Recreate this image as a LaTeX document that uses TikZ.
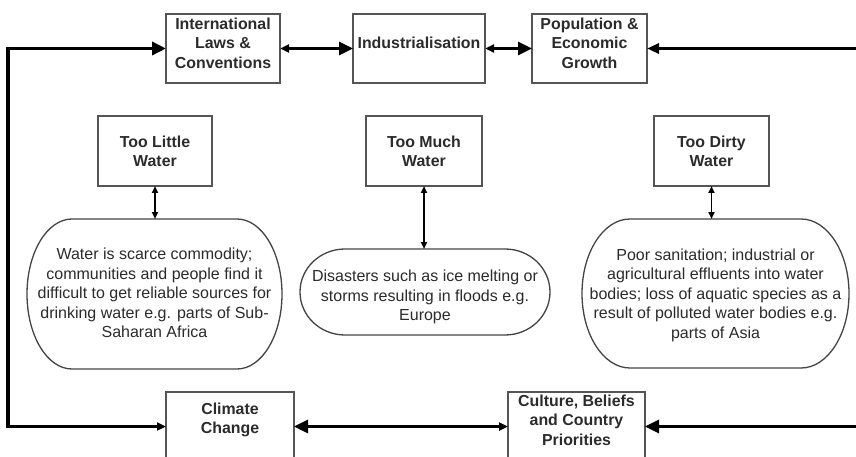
\documentclass[tikz,border=0pt]{standalone}
\usepackage{fontspec}
\setmainfont{Liberation Sans}
\usetikzlibrary{arrows.meta,calc}
\definecolor{ink}{HTML}{2B2B2B}
\definecolor{edge}{HTML}{555555}
\definecolor{ovalline}{HTML}{444444}

% outline of a stadium-like shape with elliptic ends around a named node
\newcommand\stadiumpath[3]{%
  \draw[ovaledge] ([xshift=-#2]#1.north east)
    arc[start angle=90,end angle=-90,x radius=#2,y radius=#3]
    -- ([xshift=#2]#1.south west)
    arc[start angle=270,end angle=90,x radius=#2,y radius=#3]
    -- cycle;}

\tikzset{
  bigtip/.tip={Triangle[length=14pt,width=13pt]},
  midtip/.tip={Triangle[length=12pt,width=10pt]},
  smalltip/.tip={Triangle[length=9pt,width=8pt]},
  tinytip/.tip={Triangle[length=7pt,width=6pt]},
}

\begin{document}
\begin{tikzpicture}[x=1pt,y=-1pt,
  frame/.style={draw=edge,line width=1.3pt,fill=white,minimum width=#1,
    minimum height=69pt,inner sep=0pt,outer sep=0pt},
  boxtext/.style={font=\fontsize{15.9}{19.5}\selectfont\bfseries,text=ink,
    align=center,inner sep=0pt},
  ovalnode/.style={draw=none,inner sep=0pt,outer sep=0pt},
  ovaledge/.style={draw=ovalline,line width=1.3pt},
  ovaltext/.style={font=\fontsize{16}{19.5}\selectfont,text=ink,
    align=center,inner sep=0pt},
  loopline/.style={draw=black,line width=3.4pt,line join=miter},
  linkline/.style={draw=black,line width=3pt},
  stemline/.style={draw=black,line width=1.8pt},
]
\useasboundingbox (0,0) rectangle (856,457);
\clip (0,0) rectangle (856,457);
\fill[white] (0,0) rectangle (856,457);

% top row of drivers
\node[frame=114pt] (ilaw) at (223,48.5) {};
\node[boxtext] (ilawT) at (223,43) {International\\Laws \&\\Conventions};
\node[frame=132pt] (ind) at (419,48.5) {};
\node[boxtext] (indT) at (419,43) {Industrialisation};
\node[frame=115pt] (pop) at (589.5,48.5) {};
\node[boxtext] (popT) at (589.5,43) {Population \&\\Economic\\Growth};

% bottom row of drivers (running off the lower edge)
\node[frame=128pt] (climate) at (230,426.5) {};
\node[boxtext] (climateT) at (230,420) {Climate\\Change};
\node[frame=137pt] (culture) at (576.5,426.5) {};
\node[boxtext] (cultureT) at (576.5,420) {Culture, Beliefs\\and Country\\Priorities};

% the three water problems
\node[frame=114pt,minimum height=70pt] (little) at (155,151) {};
\node[boxtext] (littleT) at (155,151.5) {Too Little\\Water};
\node[frame=116pt,minimum height=70pt] (much) at (424,151) {};
\node[boxtext] (muchT) at (424,151.5) {Too Much\\Water};
\node[frame=115pt,minimum height=70pt] (dirty) at (711.5,151) {};
\node[boxtext] (dirtyT) at (711.5,151.5) {Too Dirty\\Water};

% descriptions
\node[ovalnode,minimum width=255pt,minimum height=150pt] (scarceS) at (154.5,294) {};
\stadiumpath{scarceS}{45pt}{75pt}
\node[ovaltext] (scarceT) at (154.5,293) {Water is scarce commodity;\\communities and people find it\\difficult to get reliable sources for\\drinking water e.g. parts of Sub-\\Saharan Africa};

\node[ovalnode,minimum width=250pt,minimum height=86pt] (floodS) at (425,292) {};
\stadiumpath{floodS}{45pt}{43pt}
\node[ovaltext] (floodT) at (425,297) {Disasters such as ice melting or\\storms resulting in floods e.g.\\Europe};

\node[ovalnode,minimum width=267pt,minimum height=149pt] (pollS) at (715.5,293.5) {};
\stadiumpath{pollS}{48pt}{74.5pt}
\node[ovaltext] (pollT) at (715.5,295) {Poor sanitation; industrial or\\agricultural effluents into water\\bodies; loss of aquatic species as a\\result of polluted water bodies e.g.\\parts of Asia};

% links between problems and descriptions (kept vertical)
\draw[stemline,{tinytip}-{tinytip}] (little.south) -- (little.south |- scarceS.north);
\draw[stemline,{tinytip}-{tinytip}] (much.south) -- (much.south |- floodS.north);
\draw[stemline,{tinytip}-{tinytip}] (dirty.south) -- (dirty.south |- pollS.north);

% outer feedback loop
\coordinate (cornerTL) at (8,48.5);
\coordinate (cornerBL) at (8,426.5);
\coordinate (topright) at (856,48.5);
\coordinate (botright) at (856,426.5);
\draw[loopline,{smalltip}-{bigtip}] (climate.west) -- (cornerBL) -- (cornerTL) -- (ilaw.west);
\draw[linkline,{smalltip}-{bigtip}] (ilaw.east) -- (ind.west);
\draw[linkline,{smalltip}-{bigtip}] (ind.east) -- (pop.west);
\draw[linkline,-{midtip}] (topright) -- (pop.east);
\draw[linkline,{smalltip}-{bigtip}] (culture.west) -- (climate.east);
\draw[linkline,-{bigtip}] (botright) -- (culture.east);
\end{tikzpicture}
\end{document}
